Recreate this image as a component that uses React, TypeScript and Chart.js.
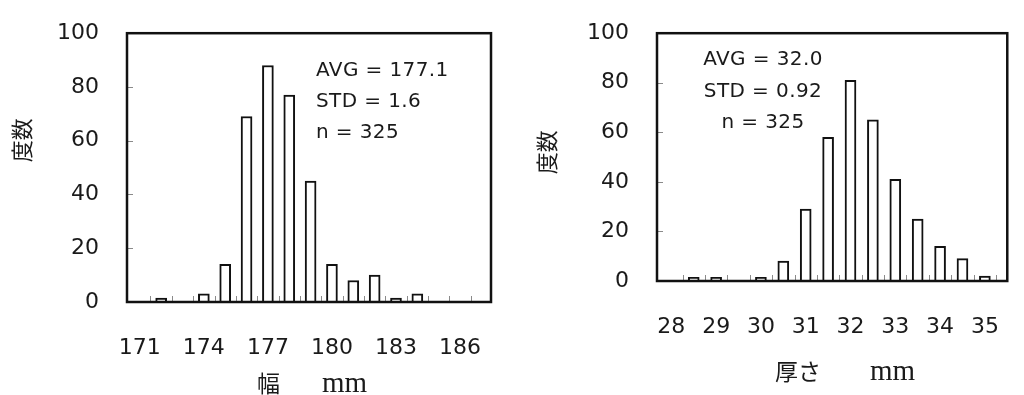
import React, { useEffect, useRef } from "react";
import { Chart, registerables } from "chart.js";

Chart.register(...registerables);

// ---- data: width histogram (幅) ----
const widthBins = [171, 172, 173, 174, 175, 176, 177, 178, 179, 180, 181, 182, 183, 184, 185, 186];
const widthCounts = [0, 1.5, 0, 3, 14, 69, 88, 77, 45, 14, 8, 10, 1.5, 3, 0, 0];
const widthTickLabels = [171, 174, 177, 180, 183, 186];
const widthStats = ["AVG = 177.1", "STD = 1.6", "n = 325"];

// ---- data: thickness histogram (厚さ) ----
const thickBins = [28, 28.5, 29, 29.5, 30, 30.5, 31, 31.5, 32, 32.5, 33, 33.5, 34, 34.5, 35];
const thickCounts = [0, 1.5, 1.5, 0, 1.5, 8, 29, 58, 81, 65, 41, 25, 14, 9, 2];
const thickTickLabels = [28, 29, 30, 31, 32, 33, 34, 35];
const thickStats = ["AVG = 32.0", "STD = 0.92", "n = 325"];

const yTickValues = [0, 20, 40, 60, 80, 100];
const yTitle = "度数";

type Spec = {
  bins: number[];
  counts: number[];
  tickLabels: number[];
  binStep: number;
  xMin: number;
  xMax: number;
  stats: string[];
  statsAlign: "left" | "center";
  statsX: number;
  statsY: number[];
  xTitleMain: string;
  xTitleUnit: string;
  mainX: number;
  unitX: number;
  titleBaseline: number;
  yTitleX: number;
  yTitleY: number;
  yAxisWidth: number;
  xAxisHeight: number;
  padTop: number;
  padRight: number;
};

const histPlugin = {
  id: "histDecor",
  beforeDatasetsDraw(chart: any, _a: any, opts: any) {
    const s: Spec = opts.spec;
    const ctx = chart.ctx;
    const { left, bottom } = chart.chartArea;
    const xs = chart.scales.x;
    const ys = chart.scales.y;
    ctx.save();
    ctx.strokeStyle = "#8a8a8a";
    ctx.lineWidth = 1;
    s.bins.forEach((b) => {
      const px = Math.round(xs.getPixelForValue(b + s.binStep / 2)) + 0.5;
      ctx.beginPath();
      ctx.moveTo(px, bottom);
      ctx.lineTo(px, bottom - 6);
      ctx.stroke();
    });
    yTickValues.slice(1, -1).forEach((v) => {
      const py = Math.round(ys.getPixelForValue(v)) + 0.5;
      ctx.beginPath();
      ctx.moveTo(left, py);
      ctx.lineTo(left + 6, py);
      ctx.stroke();
    });
    ctx.restore();
  },
  afterDraw(chart: any, _a: any, opts: any) {
    const s: Spec = opts.spec;
    const ctx = chart.ctx;
    const { left, top, right, bottom } = chart.chartArea;
    ctx.save();
    // frame
    ctx.strokeStyle = "#111";
    ctx.lineWidth = 2.5;
    ctx.strokeRect(left, top, right - left, bottom - top);
    // stats
    ctx.fillStyle = "#1a1a1a";
    ctx.font = "20px 'DejaVu Sans'";
    try { (ctx as any).letterSpacing = "0.4px"; } catch (e) {}
    ctx.textAlign = s.statsAlign;
    ctx.textBaseline = "alphabetic";
    s.stats.forEach((t, i) => {
      ctx.fillText(t, left + s.statsX, top + s.statsY[i]);
    });
    try { (ctx as any).letterSpacing = "0px"; } catch (e) {}
    // x title
    ctx.textAlign = "left";
    ctx.font = "23px 'Noto Sans CJK JP'";
    ctx.fillText(s.xTitleMain, left + s.mainX, bottom + s.titleBaseline);
    ctx.font = "29px 'Liberation Serif'";
    ctx.fillText(s.xTitleUnit, left + s.unitX, bottom + s.titleBaseline);
    // y title
    ctx.translate(left + s.yTitleX, top + s.yTitleY);
    ctx.rotate(-Math.PI / 2);
    ctx.textAlign = "center";
    ctx.textBaseline = "middle";
    ctx.font = "22px 'Noto Sans CJK JP'";
    ctx.fillText(yTitle, 0, 0);
    ctx.restore();
  },
};

function makeConfig(s: Spec): any {
  return {
    type: "bar",
    data: {
      datasets: [
        {
          data: s.bins.map((b, i) => ({ x: b, y: s.counts[i] })),
          backgroundColor: "#ffffff",
          borderColor: "#111111",
          borderWidth: 2,
          barThickness: 11,
        },
      ],
    },
    options: {
      animation: false,
      responsive: false,
      layout: { padding: { top: s.padTop, right: s.padRight, left: 0, bottom: 0 } },
      plugins: {
        legend: { display: false },
        tooltip: { enabled: false },
        histDecor: { spec: s },
      },
      scales: {
        x: {
          type: "linear",
          min: s.xMin,
          max: s.xMax,
          offset: false,
          grid: { display: false },
          border: { display: false },
          afterBuildTicks: (scale: any) => {
            scale.ticks = s.tickLabels.map((v) => ({ value: v }));
          },
          afterFit: (scale: any) => {
            scale.height = s.xAxisHeight;
          },
          ticks: {
            autoSkip: false,
            maxRotation: 0,
            padding: 25,
            color: "#1a1a1a",
            font: { family: "'DejaVu Sans'", size: 22 },
            callback: (v: any) => String(v),
          },
        },
        y: {
          min: 0,
          max: 100,
          grid: { display: false },
          border: { display: false },
          afterBuildTicks: (scale: any) => {
            scale.ticks = yTickValues.map((v) => ({ value: v }));
          },
          afterFit: (scale: any) => {
            scale.width = s.yAxisWidth;
          },
          ticks: {
            padding: 20,
            color: "#1a1a1a",
            font: { family: "'DejaVu Sans'", size: 22 },
          },
        },
      },
    },
    plugins: [histPlugin],
  };
}

const widthSpec: Spec = {
  bins: widthBins,
  counts: widthCounts,
  tickLabels: widthTickLabels,
  binStep: 1,
  xMin: 170.4,
  xMax: 187.45,
  stats: widthStats,
  statsAlign: "left",
  statsX: 189,
  statsY: [43, 74, 105],
  xTitleMain: "幅",
  xTitleUnit: "mm",
  mainX: 130,
  unitX: 195,
  titleBaseline: 90,
  yTitleX: -105,
  yTitleY: 107,
  yAxisWidth: 127,
  xAxisHeight: 93,
  padTop: 24,
  padRight: 21,
};

const thickSpec: Spec = {
  bins: thickBins,
  counts: thickCounts,
  tickLabels: thickTickLabels,
  binStep: 0.5,
  xMin: 27.68,
  xMax: 35.5,
  stats: thickStats,
  statsAlign: "center",
  statsX: 106,
  statsY: [32, 64, 95],
  xTitleMain: "厚さ",
  xTitleUnit: "mm",
  mainX: 118,
  unitX: 213,
  titleBaseline: 99,
  yTitleX: -110,
  yTitleY: 119,
  yAxisWidth: 137,
  xAxisHeight: 114,
  padTop: 18,
  padRight: 2,
};

function Hist({ spec, left, width }: { spec: Spec; left: number; width: number }) {
  const ref = useRef<HTMLCanvasElement | null>(null);
  useEffect(() => {
    if (!ref.current) return;
    const chart = new Chart(ref.current, makeConfig(spec));
    return () => chart.destroy();
  }, [spec]);
  return (
    <canvas
      ref={ref}
      width={width}
      height={395}
      style={{ position: "absolute", left, top: 0, width, height: 395 }}
    />
  );
}

export default function App() {
  return (
    <div
      style={{
        position: "fixed",
        left: 0,
        top: 0,
        width: 1024,
        height: 395,
        background: "#ffffff",
        overflow: "hidden",
      }}
    >
      <Hist spec={widthSpec} left={0} width={512} />
      <Hist spec={thickSpec} left={520} width={504} />
    </div>
  );
}
